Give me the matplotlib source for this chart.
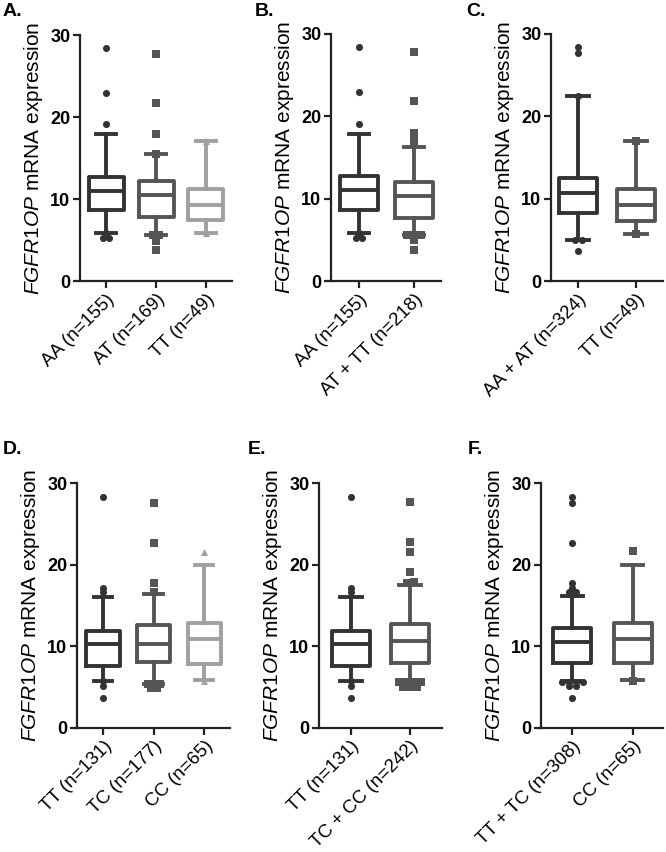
import matplotlib
matplotlib.use("Agg")
import matplotlib.pyplot as plt
import numpy as np

plt.rcParams['font.family'] = ['Liberation Sans', 'DejaVu Sans']
plt.rcParams['mathtext.fontset'] = 'custom'
plt.rcParams['mathtext.it'] = 'Liberation Sans:italic'
plt.rcParams['mathtext.rm'] = 'Liberation Sans'

DARK, MED, LIGHT = '#333333', '#555555', '#a0a0a0'

# ---- data: (whislo, q1, median, q3, whishi) and outliers ----
A_labels = ['AA (n=155)', 'AT (n=169)', 'TT (n=49)']
A_stats = [[5.8, 8.6, 11.0, 12.7, 17.9], [5.6, 7.8, 10.5, 12.2, 15.5], [5.8, 7.4, 9.3, 11.2, 17.1]]
A_fliers = [[28.4, 22.9, 19.1, 5.8, 5.2, 5.2], [27.7, 21.7, 17.9, 15.5, 5.6, 5.6, 4.9, 3.8], [17.1, 5.8]]

B_labels = ['AA (n=155)', 'AT + TT (n=218)']
B_stats = [[5.8, 8.6, 11.0, 12.7, 17.9], [5.6, 7.6, 10.3, 12.0, 16.3]]
B_fliers = [[28.4, 22.9, 19.1, 5.8, 5.2, 5.2], [27.8, 21.9, 18.0, 17.4, 16.8, 5.6, 5.6, 5.6, 5.0, 3.8]]

C_labels = ['AA + AT (n=324)', 'TT (n=49)']
C_stats = [[5.0, 8.2, 10.7, 12.5, 22.5], [5.7, 7.3, 9.2, 11.2, 17.0]]
C_fliers = [[28.4, 27.7, 22.5, 5.0, 5.0, 3.6], [17.0, 5.7]]

D_labels = ['TT (n=131)', 'TC (n=177)', 'CC (n=65)']
D_stats = [[5.7, 7.6, 10.3, 11.9, 16.1], [5.4, 8.1, 10.3, 12.6, 16.4], [5.9, 7.8, 10.9, 12.9, 19.9]]
D_fliers = [[28.3, 17.2, 16.6, 5.7, 5.1, 3.7], [27.6, 22.7, 17.8, 16.7, 5.4, 5.4, 5.4, 4.9, 4.9], [21.6, 5.7]]

E_labels = ['TT (n=131)', 'TC + CC (n=242)']
E_stats = [[5.7, 7.6, 10.3, 11.9, 16.1], [5.6, 7.9, 10.6, 12.7, 17.5]]
E_fliers = [[28.3, 17.2, 16.6, 5.7, 5.1, 3.7], [27.7, 22.8, 21.6, 19.1, 17.9, 17.7, 5.6, 5.6, 5.6, 5.6, 5.0, 5.0, 5.0]]

F_labels = ['TT + TC (n=308)', 'CC (n=65)']
F_stats = [[5.7, 7.9, 10.5, 12.2, 16.2], [5.9, 7.9, 10.9, 12.9, 19.9]]
F_fliers = [[28.3, 27.6, 22.7, 17.8, 17.2, 16.7, 16.7, 5.6, 5.6, 5.6, 5.6, 5.1, 5.1, 3.7], [21.7, 5.7]]

W, H = 666, 852
fig = plt.figure(figsize=(W / 100, H / 100), dpi=100)

def px_axes(left, right, top, bottom):
    return fig.add_axes([left / W, 1 - bottom / H, (right - left) / W, (bottom - top) / H])

colors3 = [DARK, MED, LIGHT]
markers3 = ['o', 's', '^']

def dodge(vals, tol=0.45, step=0.12):
    vals = sorted(vals)
    out = []
    i = 0
    while i < len(vals):
        j = i
        while j + 1 < len(vals) and vals[j + 1] - vals[j] < tol:
            j += 1
        n = j - i + 1
        for k in range(n):
            out.append(((k - (n - 1) / 2) * step, vals[i + k]))
        i = j + 1
    return out

def panel(ax, labels, stats, fliers, xlim, bw):
    n = len(labels)
    for i in range(n):
        wl, q1, med, q3, wh = stats[i]
        c = colors3[i]
        st = [dict(whislo=wl, q1=q1, med=med, q3=q3, whishi=wh, fliers=[])]
        lw = 2.8
        ax.bxp(st, positions=[i + 1], widths=bw, showfliers=False, capwidths=bw * 0.55,
               boxprops=dict(color=c, linewidth=lw),
               whiskerprops=dict(color=c, linewidth=lw),
               capprops=dict(color=c, linewidth=lw),
               medianprops=dict(color=c, linewidth=lw))
        pts = dodge(fliers[i])
        ax.scatter([i + 1 + dx for dx, _ in pts], [v for _, v in pts], marker=markers3[i],
                   s=26, color=c, zorder=3, linewidths=0)
    ax.set_xlim(*xlim)
    ax.set_ylim(0, 30)
    ax.set_yticks([0, 10, 20, 30])
    ax.set_xticks(range(1, n + 1))
    ax.set_xticklabels(labels, rotation=45, ha='right', rotation_mode='anchor', fontsize=13.5)
    for t in ax.get_yticklabels():
        t.set_fontweight('bold')
        t.set_fontsize(13)
    ax.spines['top'].set_visible(False)
    ax.spines['right'].set_visible(False)
    ax.spines['left'].set_linewidth(1.6)
    ax.spines['bottom'].set_linewidth(1.6)
    ax.tick_params(axis='both', width=1.6, length=5, color='#222222', pad=2)
    ax.set_ylabel(r'$\it{FGFR1OP}$ mRNA expression', fontsize=15, labelpad=4)
    ax.patch.set_visible(False)
    for s in ax.spines.values():
        s.set_color('#222222')

axA = px_axes(80, 232, 35, 281)
panel(axA, A_labels, A_stats, A_fliers, (0.48, 3.52), 0.70)
axB = px_axes(331, 441, 34, 281)
panel(axB, B_labels, B_stats, B_fliers, (0.49, 2.49), 0.68)
axC = px_axes(551, 663, 34, 281)
panel(axC, C_labels, C_stats, C_fliers, (0.53, 2.47), 0.67)
axD = px_axes(77, 230, 483, 728)
panel(axD, D_labels, D_stats, D_fliers, (0.485, 3.51), 0.66)
axE = px_axes(319, 442, 483, 728)
panel(axE, E_labels, E_stats, E_fliers, (0.46, 2.54), 0.65)
axF = px_axes(541, 663, 483, 728)
panel(axF, F_labels, F_stats, F_fliers, (0.48, 2.50), 0.63)

for letter, x, y in [('A', 3, 11), ('B', 255, 11), ('C', 466, 11),
                     ('D', 3, 450), ('E', 248, 450), ('F', 468, 450)]:
    fig.text(x / W, 1 - y / H, letter + '.', fontsize=14, fontweight='bold', va='center', ha='left')

fig.savefig('out.png', dpi=100)
